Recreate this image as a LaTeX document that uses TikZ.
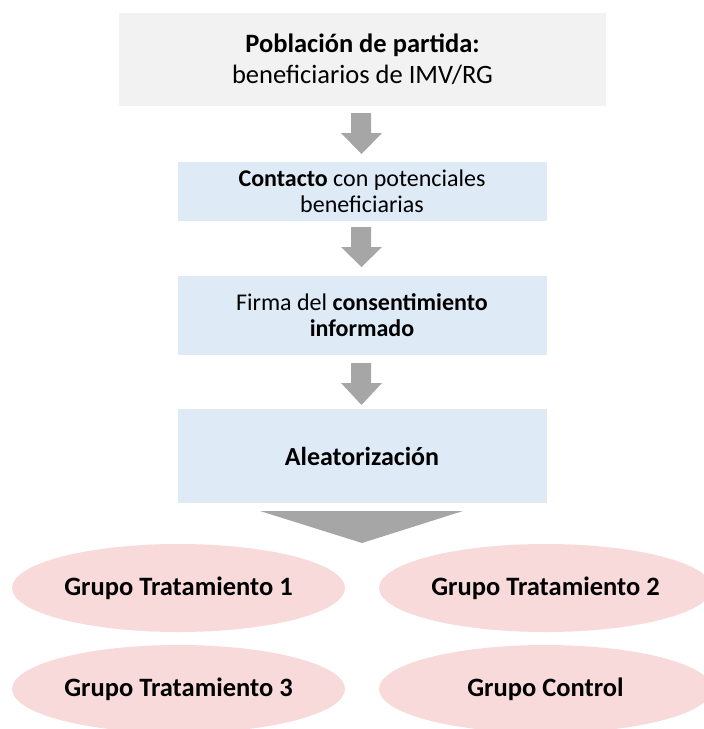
\documentclass[tikz,border=0pt]{standalone}
\usepackage{fontspec}
\setmainfont{Carlito}
\usetikzlibrary{shapes.geometric}
\definecolor{boxgray}{HTML}{F2F2F2}
\definecolor{boxblue}{HTML}{DEEBF7}
\definecolor{arrowgray}{HTML}{A6A6A6}
\definecolor{grouppink}{HTML}{F8DADB}
\begin{document}
\begin{tikzpicture}[x=1pt,y=-1pt]
    \tikzstyle{stage}=[rectangle,fill=boxblue,inner sep=0pt,minimum width=369pt,align=center,
      font=\fontsize{24}{26}\selectfont]
    \tikzstyle{grp}=[ellipse,fill=grouppink,inner sep=0pt,minimum width=333pt,minimum height=88pt,
      font=\fontsize{26.5}{30}\selectfont\bfseries]
    \tikzstyle{blockarrow}=[fill=arrowgray]

    \useasboundingbox (0,0) rectangle (704,729);
    \clip (0,0) rectangle (704,729);

    \node[rectangle,fill=boxgray,inner sep=0pt,minimum width=487pt,minimum height=93pt,align=center,
      font=\fontsize{26.5}{31}\selectfont] (pob) at (362.5,59.5)
      {\textbf{Población de partida:}\\beneficiarios de IMV/RG};
    \node[stage,minimum height=59pt] (cont) at (362,191)
      {\textbf{Contacto} con potenciales\\beneficiarias};
    \node[stage,minimum height=79pt] (firma) at (362,315)
      {Firma del \textbf{consentimiento}\\\textbf{informado}};
    \node[stage,minimum height=94pt,font=\fontsize{26}{30}\selectfont\bfseries] (alea) at (362,456)
      {Aleatorización};

    % block arrows between the stages
    \foreach \top/\mid/\tip in {113/133/154, 227/247/267, 363/383/405}
    \fill[blockarrow] (351,\top) -- (371,\top) -- (371,\mid) -- (382,\mid) -- (361.5,\tip)
      -- (341,\mid) -- (351,\mid) -- cycle;

    \fill[blockarrow] (260,511) -- (463,511) -- (362,543) -- cycle;

    \node[grp] (G-1) at (178.5,588) {Grupo Tratamiento 1};
    \node[grp] (G-2) at (545.5,588) {Grupo Tratamiento 2};
    \node[grp] (G-3) at (178.5,689) {Grupo Tratamiento 3};
    \node[grp] (G-4) at (545.5,689) {Grupo Control};
  \end{tikzpicture}
\end{document}
